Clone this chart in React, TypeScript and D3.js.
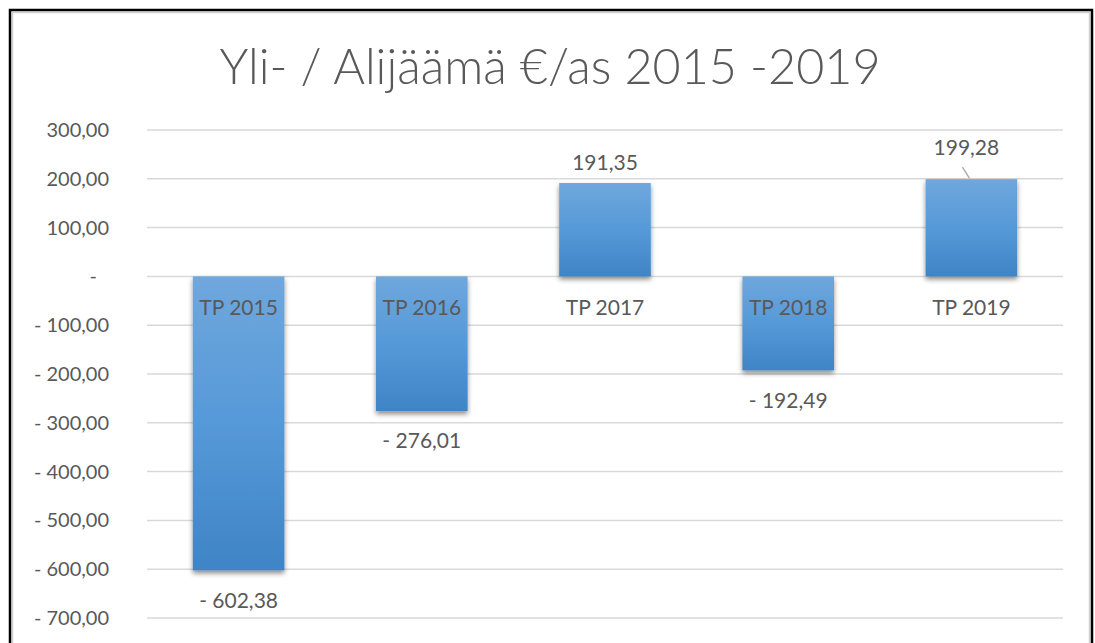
import React from "react";
import * as d3 from "d3";

const categories = ["TP 2015", "TP 2016", "TP 2017", "TP 2018", "TP 2019"];
const values = [-602.38, -276.01, 191.35, -192.49, 199.28];
const valueLabels = ["- 602,38", "- 276,01", "191,35", "- 192,49", "199,28"];
const yTicks = [300, 200, 100, 0, -100, -200, -300, -400, -500, -600, -700];
const yTickLabels = ["300,00", "200,00", "100,00", "-", "- 100,00", "- 200,00", "- 300,00", "- 400,00", "- 500,00", "- 600,00", "- 700,00"];
const title = "Yli- / Alijäämä €/as 2015 -2019";

const W = 1095;
const H = 643;
const FONT = "Lato, 'Open Sans', sans-serif";
const TEXT = "#595959";

export default function App() {
  const x = d3.scaleBand<string>().domain(categories).range([147, 1063]).paddingInner(0.5).paddingOuter(0.25);
  const y = d3.scaleLinear().domain([-700, 300]).range([618, 130]);
  const y0 = y(0);

  return (
    <svg width={W} height={H} style={{ position: "absolute", left: 0, top: 0, background: "#fff" }} fontFamily={FONT}>
      <defs>
        <linearGradient id="barGrad" x1="0" y1="0" x2="0" y2="1">
          <stop offset="0" stopColor="#6fa7dd" />
          <stop offset="0.5" stopColor="#5699d8" />
          <stop offset="1" stopColor="#3f84c6" />
        </linearGradient>
        <filter id="shadow" x="-20%" y="-20%" width="140%" height="140%">
          <feDropShadow dx="0" dy="3" stdDeviation="2.5" floodColor="#000" floodOpacity="0.45" />
        </filter>
      </defs>
      <rect x={0} y={0} width={W} height={H} fill="#fff" />
      <rect x={12.5} y={12.5} width={1077} height={H} fill="none" stroke="#d0d0d0" strokeWidth={1.5} />
      <rect x={10} y={10} width={1082} height={H + 10} fill="none" stroke="#000" strokeWidth={2.5} />

      <text x={550} y={84} textAnchor="middle" fontSize={48.5} fontWeight={300} fill={TEXT}>{title}</text>

      {yTicks.map((t, i) => (
        <g key={t}>
          <line x1={147} x2={1063} y1={y(t)} y2={y(t)} stroke="#d9d9d9" strokeWidth={1.5} />
          <text x={t === 0 ? 97 : 109} y={y(t)} dy="0.35em" textAnchor="end" fontSize={20} fill={TEXT}>{yTickLabels[i]}</text>
        </g>
      ))}

      {categories.map((c, i) => {
        const v = values[i];
        const top = Math.min(y(v), y0);
        const h = Math.abs(y(v) - y0);
        return (
          <rect key={c} x={x(c)} y={top} width={x.bandwidth()} height={h} fill="url(#barGrad)" filter="url(#shadow)" />
        );
      })}

      {categories.map((c) => (
        <text key={c} x={(x(c) as number) + x.bandwidth() / 2} y={y0 + 31} dy="0.35em" textAnchor="middle" fontSize={21} fill={TEXT}>{c}</text>
      ))}

      {categories.map((c, i) => {
        const v = values[i];
        const cx = (x(c) as number) + x.bandwidth() / 2;
        const moved = i === 4;
        const ly = v >= 0 ? y(v) - 20 - (moved ? 12 : 0) : y(v) + 30;
        return (
          <g key={c}>
            {moved && <line x1={cx - 9} y1={y(v) - 12} x2={cx - 2} y2={y(v) - 1} stroke="#a6a6a6" strokeWidth={1.3} />}
            <text x={cx + (moved ? -5 : 0)} y={ly} dy="0.35em" textAnchor="middle" fontSize={21} fill={TEXT}>{valueLabels[i]}</text>
          </g>
        );
      })}
    </svg>
  );
}
